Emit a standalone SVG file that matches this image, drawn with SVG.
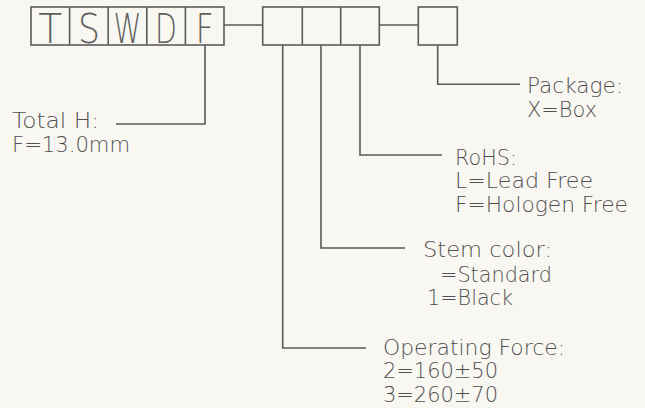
<svg xmlns="http://www.w3.org/2000/svg" width="645" height="408" viewBox="0 0 645 408">
<style>
.ln{fill:none;stroke:#5a5a5a;stroke-width:1.6}
.bx{fill:none;stroke:#5a5a5a;stroke-width:1.6}
.big{font-family:"DejaVu Sans","Liberation Sans",sans-serif;font-weight:200;font-size:41px;fill:#5f5f5f;text-anchor:middle}
.t{font-family:"DejaVu Sans","Liberation Sans",sans-serif;font-weight:200;font-size:20.5px;fill:#505050}
</style>
<rect width="645" height="408" fill="#f9f7f2"/>
<g id="code-boxes">
<rect class="bx" x="31" y="7" width="193" height="38"/>
<line class="ln" x1="69.6" y1="7" x2="69.6" y2="45"/>
<line class="ln" x1="108.2" y1="7" x2="108.2" y2="45"/>
<line class="ln" x1="146.8" y1="7" x2="146.8" y2="45"/>
<line class="ln" x1="185.4" y1="7" x2="185.4" y2="45"/>
<text class="big" x="50.3" y="43" textLength="24" lengthAdjust="spacingAndGlyphs">T</text>
<text class="big" x="88.9" y="43" textLength="22" lengthAdjust="spacingAndGlyphs">S</text>
<text class="big" x="127.5" y="43" textLength="28" lengthAdjust="spacingAndGlyphs">W</text>
<text class="big" x="166.1" y="43" textLength="22" lengthAdjust="spacingAndGlyphs">D</text>
<text class="big" x="204.7" y="43" textLength="18" lengthAdjust="spacingAndGlyphs">F</text>
</g>
<g id="option-boxes">
<rect class="bx" x="262.7" y="7" width="116.6" height="38"/>
<line class="ln" x1="302.3" y1="7" x2="302.3" y2="45"/>
<line class="ln" x1="340.7" y1="7" x2="340.7" y2="45"/>
</g>
<g id="package-box">
<rect class="bx" x="418.3" y="7" width="39" height="38"/>
</g>
<g id="connectors">
<line class="ln" x1="224" y1="25" x2="262.7" y2="25"/>
<line class="ln" x1="379.3" y1="25" x2="418.3" y2="25"/>
<polyline class="ln" points="205,45 205,124 116,124"/>
<polyline class="ln" points="437.7,45 437.7,84.3 520,84.3"/>
<polyline class="ln" points="360,45 360,155 442,155"/>
<polyline class="ln" points="321,45 321,248 405,248"/>
<polyline class="ln" points="282.7,45 282.7,348 366,348"/>
</g>
<g id="total-h">
<text class="t" x="12" y="128" textLength="87" lengthAdjust="spacingAndGlyphs">Total H:</text>
<text class="t" x="12" y="152" textLength="118" lengthAdjust="spacingAndGlyphs">F=13.0mm</text>
</g>
<g id="package">
<text class="t" x="527" y="93" textLength="96" lengthAdjust="spacingAndGlyphs">Package:</text>
<text class="t" x="527" y="117" textLength="70" lengthAdjust="spacingAndGlyphs">X=Box</text>
</g>
<g id="rohs">
<text class="t" x="455" y="165" textLength="62" lengthAdjust="spacingAndGlyphs">RoHS:</text>
<text class="t" x="455" y="188" textLength="138" lengthAdjust="spacingAndGlyphs">L=Lead Free</text>
<text class="t" x="455" y="212" textLength="173" lengthAdjust="spacingAndGlyphs">F=Hologen Free</text>
</g>
<g id="stem-color">
<text class="t" x="423" y="257" textLength="129" lengthAdjust="spacingAndGlyphs">Stem color:</text>
<text class="t" x="440" y="282" textLength="112" lengthAdjust="spacingAndGlyphs">=Standard</text>
<text class="t" x="427" y="305" textLength="86" lengthAdjust="spacingAndGlyphs">1=Black</text>
</g>
<g id="operating-force">
<text class="t" x="383" y="355" textLength="182" lengthAdjust="spacingAndGlyphs">Operating Force:</text>
<text class="t" x="383" y="378" textLength="115" lengthAdjust="spacingAndGlyphs">2=160±50</text>
<text class="t" x="383" y="402" textLength="115" lengthAdjust="spacingAndGlyphs">3=260±70</text>
</g>
</svg>
